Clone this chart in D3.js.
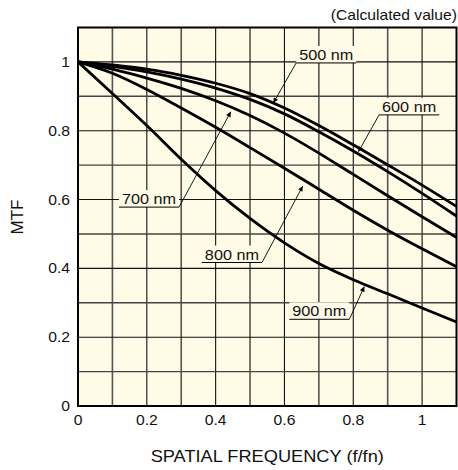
<!DOCTYPE html>
<html>
<head>
<meta charset="utf-8">
<script src="https://cdn.jsdelivr.net/npm/d3@7"></script>
<style>
  html, body { margin: 0; padding: 0; background: #ffffff; }
  svg { display: block; font-family: "Liberation Sans", Arial, Helvetica, sans-serif; }
</style>
</head>
<body>
<svg id="chart" width="458" height="470"></svg>
<script>
// ---- data ----
const freq = [0, 0.1, 0.2, 0.3, 0.4, 0.5, 0.6, 0.7, 0.8, 0.9, 1.0, 1.1];
const mtf500 = [1, 0.991, 0.979, 0.961, 0.938, 0.908, 0.866, 0.815, 0.759, 0.701, 0.642, 0.580];
const mtf600 = [1, 0.987, 0.971, 0.950, 0.924, 0.891, 0.849, 0.797, 0.741, 0.681, 0.618, 0.552];
const mtf700 = [1, 0.979, 0.953, 0.923, 0.887, 0.844, 0.793, 0.735, 0.673, 0.611, 0.550, 0.490];
const mtf800 = [1, 0.967, 0.920, 0.866, 0.810, 0.751, 0.691, 0.630, 0.569, 0.511, 0.457, 0.405];
const mtf900 = [1, 0.908, 0.815, 0.717, 0.626, 0.545, 0.474, 0.414, 0.367, 0.326, 0.285, 0.244];
const seriesNames = ["500 nm", "600 nm", "700 nm", "800 nm", "900 nm"];
const xTicks = [0, 0.2, 0.4, 0.6, 0.8, 1];
const yTicks = [0, 0.2, 0.4, 0.6, 0.8, 1];
const gridValues = [0.1, 0.2, 0.3, 0.4, 0.5, 0.6, 0.7, 0.8, 0.9, 1.0];
// label annotations (data units): underline start, arrow tip, side of leader
const labelUX = [0.634, 0.875, 0.119, 0.360, 0.614];
const labelUY = [0.997, 0.846, 0.578, 0.417, 0.252];
const tipX    = [0.568, 0.815, 0.444, 0.653, 0.832];
const tipY    = [0.881, 0.739, 0.855, 0.639, 0.347];
const leaderFromLeft = [true, true, false, false, false];
const noteText = "(Calculated value)";
const xTitle = "SPATIAL FREQUENCY (f/fn)";
const yTitle = "MTF";

// ---- layout ----
const W = 458, H = 470;
const margin = { left: 78, right: 1.5, top: 27.5, bottom: 64 };
const bg = "#fffbe6";
const SX = 1.12; // horizontal text stretch

const svg = d3.select("#chart");
const x = d3.scaleLinear().domain([0, 1.1]).range([margin.left, W - margin.right]);
const y = d3.scaleLinear().domain([0, 1.1]).range([H - margin.bottom, margin.top]);

// plot background
svg.append("rect")
  .attr("x", x(0)).attr("y", y(1.1))
  .attr("width", x(1.1) - x(0)).attr("height", y(0) - y(1.1))
  .attr("fill", bg);

// grid
const grid = svg.append("g");
grid.selectAll("line.v").data(gridValues).join("line")
  .attr("x1", d => x(d)).attr("x2", d => x(d))
  .attr("y1", y(0)).attr("y2", y(1.1))
  .attr("stroke", (d, i) => i % 2 === 0 ? "#555" : "#111")
  .attr("stroke-width", (d, i) => i % 2 === 0 ? 1.6 : 1.1);
grid.selectAll("line.h").data(gridValues).join("line")
  .attr("y1", d => y(d)).attr("y2", d => y(d))
  .attr("x1", x(0)).attr("x2", x(1.1))
  .attr("stroke", (d, i) => i % 2 === 0 ? "#444" : "#111")
  .attr("stroke-width", (d, i) => i % 2 === 0 ? 1.4 : 1.1);

// curves
const allSeries = [mtf500, mtf600, mtf700, mtf800, mtf900];
const line = d3.line()
  .x((d, i) => x(freq[i]))
  .y(d => y(d))
  .curve(d3.curveMonotoneX);
svg.append("g").selectAll("path").data(allSeries).join("path")
  .attr("d", d => line(d))
  .attr("fill", "none")
  .attr("stroke", "#000")
  .attr("stroke-width", 2.8)
  .attr("stroke-linejoin", "round");

// border
svg.append("rect")
  .attr("x", x(0)).attr("y", y(1.1))
  .attr("width", x(1.1) - x(0)).attr("height", y(0) - y(1.1))
  .attr("fill", "none").attr("stroke", "#000").attr("stroke-width", 2);

// arrow marker
svg.append("defs").append("marker")
  .attr("id", "arr").attr("viewBox", "0 0 10 10")
  .attr("refX", 10).attr("refY", 5)
  .attr("markerWidth", 7).attr("markerHeight", 5)
  .attr("markerUnits", "userSpaceOnUse")
  .attr("orient", "auto")
  .append("path").attr("d", "M0,0 L10,5 L0,10 Z").attr("fill", "#000");

// labels
const labels = svg.append("g");
seriesNames.forEach((name, i) => {
  const ux = x(labelUX[i]), uy = y(labelUY[i]);
  const g = labels.append("g");
  const box = g.append("rect").attr("fill", bg);
  const t = g.append("text")
    .attr("transform", `translate(${ux + 3},${uy - 3}) scale(${SX},1)`)
    .attr("font-size", 14.5)
    .attr("fill", "#111")
    .text(name);
  const tw = t.node().getComputedTextLength() * SX;
  const x0 = ux, x1 = ux + tw + 6;
  box.attr("x", x0).attr("y", uy - 17).attr("width", x1 - x0).attr("height", 17);
  g.append("line").attr("x1", x0).attr("x2", x1).attr("y1", uy).attr("y2", uy)
    .attr("stroke", "#000").attr("stroke-width", 1);
  const sx = leaderFromLeft[i] ? x0 : x1;
  g.append("line").attr("x1", sx).attr("y1", uy)
    .attr("x2", x(tipX[i])).attr("y2", y(tipY[i]))
    .attr("stroke", "#000").attr("stroke-width", 0.9)
    .attr("marker-end", "url(#arr)");
});

// tick labels
svg.append("g").selectAll("text").data(xTicks).join("text")
  .attr("transform", d => `translate(${x(d)},${y(0) + 19}) scale(${SX},1)`)
  .attr("text-anchor", "middle").attr("font-size", 14).attr("fill", "#111")
  .text(d => String(+d.toFixed(1)));
svg.append("g").selectAll("text").data(yTicks).join("text")
  .attr("transform", d => `translate(${x(0) - 8},${y(d) + 5}) scale(${SX},1)`)
  .attr("text-anchor", "end").attr("font-size", 14).attr("fill", "#111")
  .text(d => String(+d.toFixed(1)));

// titles
svg.append("text")
  .attr("transform", `translate(${(x(0) + x(1.1)) / 2},${H - 8.5}) scale(1.14,1)`)
  .attr("text-anchor", "middle").attr("font-size", 16).attr("fill", "#111")
  .text(xTitle);
svg.append("text")
  .attr("transform", `translate(23,217) rotate(-90)`)
  .attr("text-anchor", "middle").attr("font-size", 17).attr("fill", "#111")
  .text(yTitle);
svg.append("text")
  .attr("transform", `translate(457,20) scale(${SX},1)`)
  .attr("text-anchor", "end").attr("font-size", 14).attr("fill", "#111")
  .text(noteText);
</script>
</body>
</html>
